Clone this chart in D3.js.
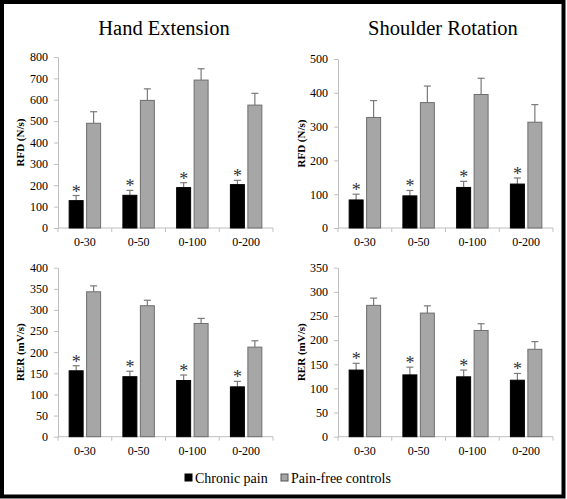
<!DOCTYPE html>
<html><head><meta charset="utf-8">
<script src="https://cdn.jsdelivr.net/npm/d3@7"></script>
<style>body{margin:0;background:#fff}svg{display:block}svg text{font-family:"Liberation Serif","Times New Roman",serif}</style>
</head><body><div id="chart"></div>
<script>
const categories = ["0-30","0-50","0-100","0-200"];
const seriesNames = ["Chronic pain","Pain-free controls"];
const panelTitles = ["Hand Extension","Shoulder Rotation"];

const handRfdPain = [128,153,189,203];
const handRfdPainErr = [24,23,23,20];
const handRfdCtrl = [490,597,692,575];
const handRfdCtrlErr = [54,54,53,55];

const shoulderRfdPain = [83,95,120,130];
const shoulderRfdPainErr = [17,16,18,18];
const shoulderRfdCtrl = [327,371,395,313];
const shoulderRfdCtrlErr = [50,49,48,52];

const handRerPain = [156,142,133,118];
const handRerPainErr = [12,13,13,13];
const handRerCtrl = [343,310,268,212];
const handRerCtrlErr = [14,13,12,15];

const shoulderRerPain = [138,128,124,117];
const shoulderRerPainErr = [14,16,14,14];
const shoulderRerCtrl = [272,256,220,181];
const shoulderRerCtrlErr = [15,15,14,16];

const rfdHandTicks = [0,100,200,300,400,500,600,700,800];
const rfdShoulderTicks = [0,100,200,300,400,500];
const rerHandTicks = [0,50,100,150,200,250,300,350,400];
const rerShoulderTicks = [0,50,100,150,200,250,300,350];

const W = 567, H = 499;
const serif = '"Liberation Serif","Times New Roman",serif';
const svg = d3.select("#chart").append("svg").attr("width",W).attr("height",H);
svg.append("rect").attr("width",W).attr("height",H).attr("fill","#fff");
svg.append("rect").attr("x",2).attr("y",2).attr("width",561.5).attr("height",494.5)
  .attr("fill","none").attr("stroke","#000").attr("stroke-width",4);

const panels = [
  {x0:58, x1:273, yTop:57, yBot:228, ticks:rfdHandTicks, label:"RFD (N/s)", labelX:20,
   pain:handRfdPain, painErr:handRfdPainErr, ctrl:handRfdCtrl, ctrlErr:handRfdCtrlErr},
  {x0:338, x1:553, yTop:59, yBot:228, ticks:rfdShoulderTicks, label:"RFD (N/s)", labelX:301,
   pain:shoulderRfdPain, painErr:shoulderRfdPainErr, ctrl:shoulderRfdCtrl, ctrlErr:shoulderRfdCtrlErr},
  {x0:58, x1:273, yTop:267.7, yBot:436.7, ticks:rerHandTicks, label:"RER (mV/s)", labelX:20,
   pain:handRerPain, painErr:handRerPainErr, ctrl:handRerCtrl, ctrlErr:handRerCtrlErr},
  {x0:338, x1:553, yTop:267.7, yBot:436.7, ticks:rerShoulderTicks, label:"RER (mV/s)", labelX:301,
   pain:shoulderRerPain, painErr:shoulderRerPainErr, ctrl:shoulderRerCtrl, ctrlErr:shoulderRerCtrlErr}
];

// titles
svg.append("text").attr("x",164).attr("y",35).attr("text-anchor","middle")
  .style("font-family",serif).attr("font-size",20.5).attr("fill","#000").text(panelTitles[0]);
svg.append("text").attr("x",443).attr("y",35).attr("text-anchor","middle")
  .style("font-family",serif).attr("font-size",20.5).attr("fill","#000").text(panelTitles[1]);

const axisColor = "#bfbfbf";
panels.forEach(p => {
  const g = svg.append("g");
  const x = d3.scaleBand().domain(categories).range([p.x0,p.x1]).paddingInner(0).paddingOuter(0);
  const y = d3.scaleLinear().domain([0,d3.max(p.ticks)]).range([p.yBot,p.yTop]);

  // y axis
  const ya = g.append("g").attr("transform",`translate(${p.x0},0)`)
    .call(d3.axisLeft(y).tickValues(p.ticks).tickSize(4).tickPadding(6).tickSizeOuter(0));
  ya.attr("font-family",null);
  ya.select(".domain").attr("stroke",axisColor);
  ya.selectAll(".tick line").attr("stroke",axisColor);
  ya.selectAll(".tick text").style("font-family",serif).attr("font-size",12).attr("fill","#000");

  // x axis
  const xa = g.append("g").attr("transform",`translate(0,${p.yBot})`);
  xa.append("line").attr("x1",p.x0).attr("x2",p.x1).attr("y1",0).attr("y2",0).attr("stroke",axisColor);
  const bounds = categories.map(c => x(c)).concat([p.x1]);
  xa.selectAll("line.tk").data(bounds).join("line").attr("class","tk")
    .attr("x1",d=>d).attr("x2",d=>d).attr("y1",0).attr("y2",4).attr("stroke",axisColor);
  xa.selectAll("text").data(categories).join("text")
    .attr("x",d=>x(d)+x.bandwidth()/2).attr("y",18).attr("text-anchor","middle")
    .style("font-family",serif).attr("font-size",12).attr("fill","#000").text(d=>d);

  // y label
  g.append("text").attr("transform",`translate(${p.labelX+4},${(p.yTop+p.yBot)/2}) rotate(-90)`)
    .attr("text-anchor","middle").style("font-family",serif).attr("font-size",11)
    .attr("font-weight","bold").attr("fill","#000").text(p.label);

  const bw = x.bandwidth();
  const barW = bw*0.26, gap = bw*0.065;
  const rows = categories.map((c,i)=>({c, pain:p.pain[i], painErr:p.painErr[i], ctrl:p.ctrl[i], ctrlErr:p.ctrlErr[i]}));
  const pX = d => x(d.c)+bw/2-gap/2-barW;
  const cX = d => x(d.c)+bw/2+gap/2;

  const eb = (acc, accErr, xf, color) => {
    g.selectAll(null).data(rows).join("line")
      .attr("x1",d=>xf(d)+barW/2).attr("x2",d=>xf(d)+barW/2)
      .attr("y1",d=>y(acc(d))).attr("y2",d=>y(acc(d)+accErr(d))).attr("stroke",color).attr("stroke-width",1.2);
    g.selectAll(null).data(rows).join("line")
      .attr("x1",d=>xf(d)+barW/2-3.5).attr("x2",d=>xf(d)+barW/2+3.5)
      .attr("y1",d=>y(acc(d)+accErr(d))).attr("y2",d=>y(acc(d)+accErr(d))).attr("stroke",color).attr("stroke-width",1.2);
  };
  eb(d=>d.pain, d=>d.painErr, pX, "#7a7a7a");
  eb(d=>d.ctrl, d=>d.ctrlErr, cX, "#7a7a7a");

  g.selectAll(null).data(rows).join("rect")
    .attr("x",pX).attr("y",d=>y(d.pain)).attr("width",barW).attr("height",d=>y(0)-y(d.pain))
    .attr("fill","#000").attr("stroke","#000").attr("stroke-width",1);
  g.selectAll(null).data(rows).join("rect")
    .attr("x",cX).attr("y",d=>y(d.ctrl)).attr("width",barW).attr("height",d=>y(0)-y(d.ctrl))
    .attr("fill","#a6a6a6").attr("stroke","#6e6e6e").attr("stroke-width",1);

  g.selectAll(null).data(rows).join("text")
    .attr("x",d=>pX(d)+barW/2).attr("y",d=>y(d.pain+d.painErr)+2)
    .attr("text-anchor","middle").style("font-family",serif).attr("font-size",18)
    .attr("fill","#333").text("*");
});

// legend
const lg = svg.append("g");
const legendItems = [
  {name:seriesNames[0], x:185, fill:"#000", stroke:"#000"},
  {name:seriesNames[1], x:281, fill:"#a6a6a6", stroke:"#555"}
];
legendItems.forEach(it=>{
  lg.append("rect").attr("x",it.x).attr("y",474).attr("width",7).attr("height",7)
    .attr("fill",it.fill).attr("stroke",it.stroke).attr("stroke-width",1);
  lg.append("text").attr("x",it.x+10).attr("y",482.5).style("font-family",serif)
    .attr("font-size",14).attr("fill","#000").text(it.name);
});
</script></body></html>
